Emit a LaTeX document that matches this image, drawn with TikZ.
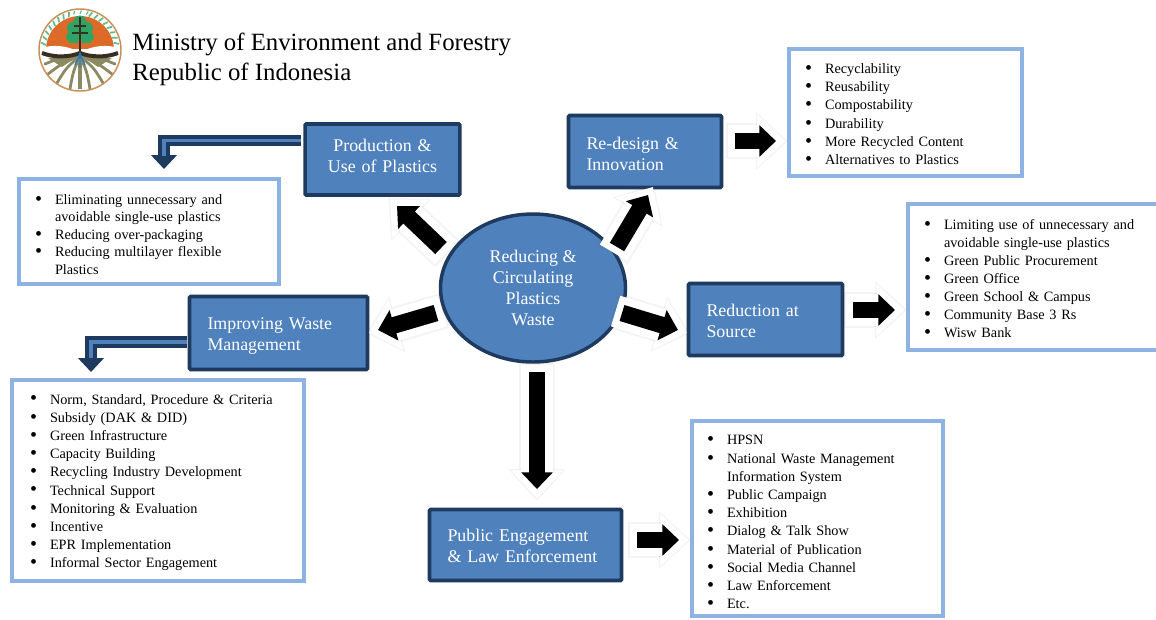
\documentclass[tikz,border=0pt]{standalone}
\usepackage{fontspec}
\setmainfont{Liberation Serif}
\usetikzlibrary{arrows.meta,shapes.geometric}
\definecolor{boxfill}{HTML}{4F81BD}
\definecolor{boxline}{HTML}{1F3A5F}
\definecolor{listline}{HTML}{8DB3E2}
\definecolor{logoorange}{HTML}{DD6A28}
\definecolor{logogreen}{HTML}{2FA565}
\definecolor{logorim}{HTML}{C98F55}
\definecolor{logoroot}{HTML}{8B8A63}
\definecolor{logosoil}{HTML}{3A2E22}
\definecolor{logoblue}{HTML}{2F78B8}
\newlength{\listind}
\newcommand{\li}[1]{\hangindent=\listind\hangafter=0\leavevmode\llap{\raisebox{-0.7pt}{\fontsize{15}{15}\selectfont\textbullet}\hskip 9.6pt}#1\par}
\newcommand{\listbody}[2]{\vbox{#2\vskip #1\relax}}
\tikzset{
  x=0.75pt,y=-0.75pt,
  titlebox/.style={draw=boxline,fill=boxfill,line width=2.7pt,rounded corners=0.8pt,text=white,inner ysep=0pt,
    font=\fontsize{13.4}{15.7}\selectfont},
  listbox/.style={draw=listline,fill=white,line width=2.7pt,inner xsep=0pt,inner ysep=0pt,align=left,
    font=\fontsize{10.7}{13.65}\selectfont},
  corenode/.style={ellipse,draw=boxline,fill=boxfill,line width=2.6pt,text=white,align=center,inner sep=0pt,
    minimum width=138.75pt,minimum height=111pt,font=\fontsize{13.4}{15.7}\selectfont},
  headtext/.style={inner sep=0pt,align=left,anchor=west,font=\fontsize{18.6}{22.5}\selectfont},
  arrowshadow/.style={draw=black!60,opacity=0.07,line width=27pt,-{Triangle[length=24pt,width=42pt]},shorten >=-9pt,shorten <=-7pt},
  arrowhalo/.style={draw=white,line width=24pt,-{Triangle[length=21pt,width=38pt]},shorten >=-7pt,shorten <=-5pt},
  arrowcore/.style={draw=black,line width=12.5pt,-{Triangle[length=12.5pt,width=23pt]}},
  bentouter/.style={draw=boxline,line width=8.6pt,line join=miter,-{Triangle[length=10.5pt,width=19pt]}},
  bentinner/.style={draw=boxfill,line width=2.8pt,line join=miter},
}
\newcommand{\blockarrow}[2]{%
  \draw[arrowshadow] (#1) -- (#2);
  \draw[arrowhalo] (#1) -- (#2);
  \draw[arrowcore] (#1) -- (#2);
}
\begin{document}
\begin{tikzpicture}
\useasboundingbox (0,0) rectangle (1156,619);
\clip (0,0) rectangle (1156,619);
\fill[white] (0,0) rectangle (1156,619);

% logo
\begin{scope}
  \fill[white] (80,50) circle (41);
  \begin{scope}
    \clip (30,5) rectangle (130,48);
    \fill[logoorange] (80,50) circle (34);
  \end{scope}
  \begin{scope}[shift={(80,50)}]
    \foreach \a in {-172,-163,...,-105,-75,-66,...,-8}
      \draw[logogreen!75,line width=1.3pt] (\a:34.5) -- (\a+3:39.5);
    \foreach \a in {-100,-90,-80}
      \draw[logogreen!75,line width=0.9pt] (\a:36) -- (\a+2:39.5);
  \end{scope}
  \fill[logogreen] (80,22) circle (6.5) (73,28) circle (6) (87,28) circle (6)
    (72.5,37) circle (6.2) (87.5,37) circle (6.2) (80,32) circle (8) (76,41) circle (2.5) (84,41) circle (2.5);
  \draw[logosoil,line width=0.8pt] (74,26) -- (86,26) (72,33) -- (88,33);
  \draw[logosoil,line width=1.7pt] (80,17) -- (80,54);
  \fill[white] (45,47) .. controls (60,44) and (70,48) .. (78,51) -- (82,51)
    .. controls (90,48) and (100,44) .. (115,47) -- (119,53) -- (41,53) -- cycle;
  \foreach \ex/\ey/\cx/\cy in {45/64/62/57,48/74/64/62,57/83/66/68,70/89/73/72,90/89/87/72,103/83/94/68,112/74/96/62,115/64/98/57}
    \draw[logoroot,line width=2.1pt,line cap=round] (80,56) .. controls (\cx,\cy) .. (\ex,\ey);
  \fill[logoroot] (48,58) -- (78,56) -- (62,67) -- cycle (112,58) -- (82,56) -- (98,67) -- cycle;
  \draw[logoroot,line width=2.4pt] (80,60) -- (80,89);
  \draw[logosoil,line width=3pt] (42,53) .. controls (55,58) and (70,57) .. (80,53)
    .. controls (90,57) and (105,58) .. (118,53);
  \draw[logoblue,line width=1.1pt] (80,52) -- (80,67) (80,54) -- (75,65) (80,54) -- (85,65);
  \draw[logorim,line width=1.1pt] (80,50) circle (41);
\end{scope}

\node[headtext] (title) at (132,59) {Ministry of Environment and Forestry\\Republic of Indonesia};

% central node and title boxes
\node[corenode] (core) at (533,288) {Reducing \&\\Circulating\\Plastics\\Waste};
\node[titlebox,align=center,text width=106pt,inner xsep=5pt,minimum height=53.25pt] (prod) at (382.5,159.5) {Production \&\\Use of Plastics\par\vspace{5pt}};
\node[titlebox,align=left,text width=87.75pt,inner xsep=13.5pt,minimum height=54pt] (redesign) at (645,151.5) {Re-design \&\\Innovation\par\vspace{-3pt}};
\node[titlebox,align=left,text width=88.5pt,inner xsep=13.5pt,minimum height=54pt] (reduction) at (765.5,319.5) {Reduction at\\Source\par\vspace{-2pt}};
\node[titlebox,align=left,text width=106.5pt,inner xsep=13.5pt,minimum height=54.75pt] (improve) at (278.5,333) {Improving Waste\\Management\par\vspace{-4.5pt}};
\node[titlebox,align=left,text width=117pt,inner xsep=13.5pt,minimum height=53.25pt] (public) at (525.5,545) {Public Engagement\\\& Law Enforcement\par\vspace{-2pt}};

% list boxes
\node[listbox,text width=195pt,minimum height=78.75pt,
  execute at begin node={\setlength{\listind}{27pt}\setlength{\baselineskip}{13.2pt}}] (listprod) at (149,231.5) {%
  \listbody{-4.5pt}{%
  \li{Eliminating unnecessary and\newline avoidable single-use plastics}
  \li{Reducing over-packaging}
  \li{Reducing multilayer flexible\newline Plastics}}};
\node[listbox,text width=174.75pt,minimum height=95.25pt,
  execute at begin node={\setlength{\listind}{27pt}}] (listredesign) at (905.5,112.5) {%
  \listbody{-3pt}{%
  \li{Recyclability}
  \li{Reusability}
  \li{Compostability}
  \li{Durability}
  \li{More Recycled Content}
  \li{Alternatives to Plastics}}};
\node[listbox,text width=195pt,minimum height=109.5pt,
  execute at begin node={\setlength{\listind}{27pt}\setlength{\baselineskip}{13.5pt}}] (listreduction) at (1038,277) {%
  \listbody{-3pt}{%
  \li{Limiting use of unnecessary and\newline avoidable single-use plastics}
  \li{Green Public Procurement}
  \li{Green Office}
  \li{Green School \& Campus}
  \li{Community Base 3 Rs}
  \li{Wisw Bank}}};
\node[listbox,text width=219pt,minimum height=150.75pt,
  execute at begin node={\setlength{\listind}{28.5pt}}] (listimprove) at (158,480.5) {%
  \listbody{-3pt}{%
  \li{Norm, Standard, Procedure \& Criteria}
  \li{Subsidy (DAK \& DID)}
  \li{Green Infrastructure}
  \li{Capacity Building}
  \li{Recycling Industry Development}
  \li{Technical Support}
  \li{Monitoring \& Evaluation}
  \li{Incentive}
  \li{EPR Implementation}
  \li{Informal Sector Engagement}}};
\node[listbox,text width=188.25pt,minimum height=146.25pt,
  execute at begin node={\setlength{\listind}{26.25pt}}] (listpublic) at (817.5,518.5) {%
  \listbody{-6pt}{%
  \li{HPSN}
  \li{National Waste Management\newline Information System}
  \li{Public Campaign}
  \li{Exhibition}
  \li{Dialog \& Talk Show}
  \li{Material of Publication}
  \li{Social Media Channel}
  \li{Law Enforcement}
  \li{Etc.}}};

% arrow ends
\coordinate (coreNW) at (441,248);
\coordinate (tipNW) at (397,206);
\coordinate (coreNE) at (617,247);
\coordinate (tipNE) at (648,195);
\coordinate (coreE) at (622,313);
\coordinate (tipE) at (678,330);
\coordinate (coreW) at (436,313);
\coordinate (tipW) at (378,330);
\coordinate (coreS) at (537,372);
\coordinate (tipS) at (537,489);
\coordinate (redesignOut) at (735,141);
\coordinate (redesignIn) at (776,141);
\coordinate (reductionOut) at (853,310);
\coordinate (reductionIn) at (895,310);
\coordinate (publicOut) at (637,540);
\coordinate (publicIn) at (679,540);
\blockarrow{coreNW}{tipNW}
\blockarrow{coreNE}{tipNE}
\blockarrow{coreE}{tipE}
\blockarrow{coreW}{tipW}
\blockarrow{coreS}{tipS}
\blockarrow{redesignOut}{redesignIn}
\blockarrow{reductionOut}{reductionIn}
\blockarrow{publicOut}{publicIn}

% bent arrows
\coordinate (prodOut) at (301,140.5);
\coordinate (prodIn) at (164,169);
\coordinate (prodInner) at (164,156);
\draw[bentouter] (prodOut) -| (prodIn);
\draw[bentinner] (prodOut) -| (prodInner);
\coordinate (improveOut) at (187,342);
\coordinate (improveIn) at (91,372);
\coordinate (improveInner) at (91,358);
\draw[bentouter] (improveOut) -| (improveIn);
\draw[bentinner] (improveOut) -| (improveInner);
\end{tikzpicture}
\end{document}
